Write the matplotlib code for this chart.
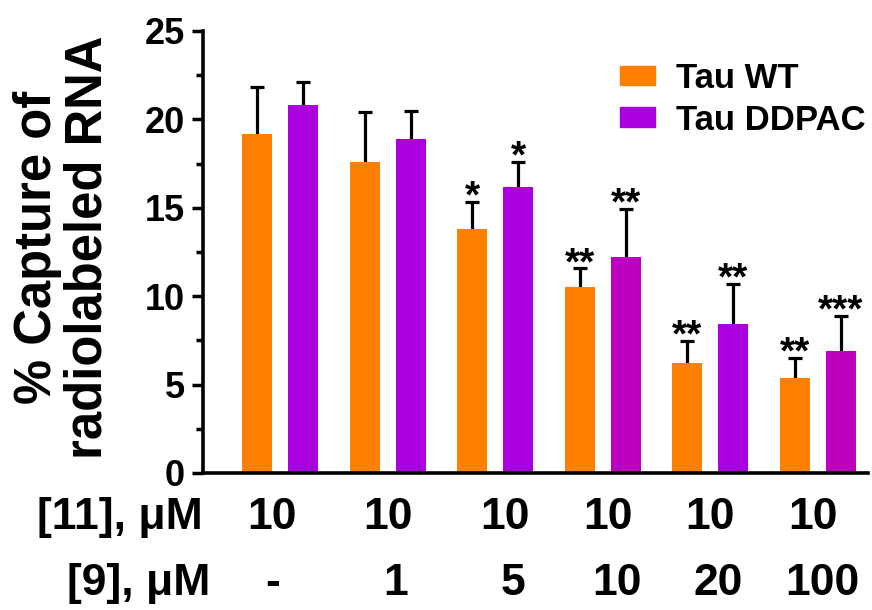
import matplotlib
matplotlib.use("Agg")
import matplotlib.pyplot as plt
import matplotlib.transforms as mtransforms
from matplotlib.patches import Patch
from matplotlib.ticker import MultipleLocator

# ---- data ----
conc11 = ["10", "10", "10", "10", "10", "10"]
conc9 = ["-", "1", "5", "10", "20", "100"]
wt_vals = [19.2, 17.6, 13.8, 10.5, 6.2, 5.4]
wt_err = [2.64, 2.83, 1.51, 1.07, 1.27, 1.13]
dd_vals = [20.8, 18.9, 16.2, 12.2, 8.4, 6.9]
dd_err = [1.32, 1.60, 1.39, 2.73, 2.30, 1.98]
wt_stars = ["", "", "*", "**", "**", "**"]
dd_stars = ["", "", "*", "**", "**", "***"]
series_names = ["Tau WT", "Tau DDPAC"]

# ---- style ----
plt.rcParams['font.family'] = ['Liberation Sans', 'DejaVu Sans']
plt.rcParams['font.weight'] = 'bold'
orange = '#FF8000'
purple = '#AA00E0'
magenta = '#BC00BE'
dd_colors = [purple, purple, purple, magenta, purple, magenta]

fig = plt.figure(figsize=(8.72, 6.10), dpi=100)
ax = fig.add_axes([0.2328, 0.2246, 0.7626, 0.7246])

n = len(wt_vals)
xs = list(range(n))
bw = 0.279
off = 0.214
x_wt = [x - off for x in xs]
x_dd = [x + off for x in xs]

ax.bar(x_wt, wt_vals, width=bw, color=orange, zorder=2)
ax.bar(x_dd, dd_vals, width=bw, color=dd_colors, zorder=2)
# symmetric error bars drawn beneath the bars so only the upper half shows
ax.errorbar(x_wt, wt_vals, yerr=wt_err, fmt='none', ecolor='black',
            elinewidth=2.3, capsize=4.7, capthick=2.3, zorder=1)
ax.errorbar(x_dd, dd_vals, yerr=dd_err, fmt='none', ecolor='black',
            elinewidth=2.3, capsize=4.7, capthick=2.3, zorder=1)

for xv, v, e, s in list(zip(x_wt, wt_vals, wt_err, wt_stars)) + list(zip(x_dd, dd_vals, dd_err, dd_stars)):
    if s:
        ax.annotate(s, (xv, v + e), xytext=(0, -4), textcoords='offset points',
                    ha='center', va='baseline', fontsize=28, fontweight='bold')

ax.set_xlim(-0.716, 5.465)
ax.set_ylim(0, 25)
ax.yaxis.set_major_locator(MultipleLocator(5))
ax.yaxis.set_minor_locator(MultipleLocator(2.5))
ax.tick_params(axis='y', which='major', length=8, width=2.5, labelsize=26, pad=5)
ax.tick_params(axis='y', which='minor', length=5, width=2.5)
ax.set_xticks([])
for sp in ['top', 'right']:
    ax.spines[sp].set_visible(False)
for sp in ['left', 'bottom']:
    ax.spines[sp].set_linewidth(2.6)
for lab in ax.get_yticklabels():
    lab.set_fontweight('bold')

# x label rows (table under the axis)
trans = mtransforms.blended_transform_factory(ax.transData, fig.transFigure)
row1_nudge = [-0.074, 0.004, 0.09, 0.05, 0.0, -0.05]
row2_nudge = [-0.065, 0.07, 0.17, 0.13, 0.07, 0.04]
for i, (a, b) in enumerate(zip(conc11, conc9)):
    ax.text(xs[i] + row1_nudge[i], 0.151, a, transform=trans, ha='center', va='center',
            fontsize=32, fontweight='bold')
    ax.text(xs[i] + row2_nudge[i], 0.043, b, transform=trans, ha='center', va='center',
            fontsize=32, fontweight='bold')
fig.text(0.233, 0.151, "[11], μM", ha='right', va='center', fontsize=32, fontweight='bold')
fig.text(0.241, 0.043, "[9], μM", ha='right', va='center', fontsize=32, fontweight='bold')

# y label
fig.text(0.072, 0.595, "% Capture of\nradiolabeled RNA", rotation=90, ha='center', va='center',
         fontsize=36.5, fontweight='bold', linespacing=1.05, multialignment='center')

# legend
handles = [Patch(color=orange), Patch(color=purple)]
ax.legend(handles, series_names, loc='upper left', bbox_to_anchor=(0.627, 0.93),
          frameon=False, handlelength=1.0, handleheight=0.5,
          handletextpad=0.6, labelspacing=0.25, borderpad=0, borderaxespad=0,
          prop={'weight': 'bold', 'size': 25})

fig.savefig("out.png", dpi=100)
